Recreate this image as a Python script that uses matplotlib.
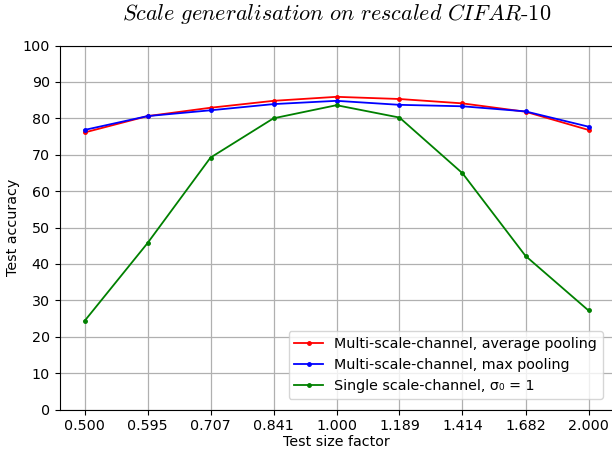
import numpy as np
import matplotlib
matplotlib.use('Agg')
import matplotlib.pyplot as plt

plt.rcParams['mathtext.fontset'] = 'cm'

# test size factors (2^(k/4), k = -4..4)
size_labels = ['0.500', '0.595', '0.707', '0.841', '1.000', '1.189', '1.414', '1.682', '2.000']

acc_avg_pool = [76.1, 80.6, 82.9, 84.8, 85.9, 85.3, 84.1, 81.8, 76.8]
acc_max_pool = [76.8, 80.6, 82.2, 83.9, 84.8, 83.7, 83.3, 81.9, 77.7]
acc_single = [24.3, 45.7, 69.2, 80.0, 83.6, 80.2, 64.9, 42.2, 27.2]

y_ticks = list(range(0, 101, 10))

fs = 10.3
fig = plt.figure(figsize=(6.12, 4.5), dpi=100)
ax = fig.add_axes([59.5 / 612, 1 - 409.5 / 450, 554 / 612, 364 / 450])

x = np.arange(len(size_labels))
ax.plot(x, acc_avg_pool, color='red', marker='.', markersize=5, linewidth=1.3,
        label='Multi-scale-channel, average pooling')
ax.plot(x, acc_max_pool, color='blue', marker='.', markersize=5, linewidth=1.3,
        label='Multi-scale-channel, max pooling')
ax.plot(x, acc_single, color='green', marker='.', markersize=5, linewidth=1.3,
        label='Single scale-channel, \u03c3\u2080 = 1')

ax.set_xlim(-25 / 63, len(size_labels) - 1 + 25 / 63)
ax.set_ylim(0, 100)
ax.set_xticks(x)
ax.set_xticklabels(size_labels, fontsize=fs)
ax.set_yticks(y_ticks)
ax.tick_params(axis='y', labelsize=fs)
ax.grid(True, color='#b0b0b0', linewidth=0.9)
ax.set_axisbelow(True)

ax.set_xlabel('Test size factor', fontsize=fs, labelpad=1)
ax.set_ylabel('Test accuracy', fontsize=fs, labelpad=2)
ax.set_title(r'$\mathit{Scale\ generalisation\ on\ rescaled\ CIFAR\text{-}10}$',
             fontsize=16, pad=18)

ax.legend(loc='lower right', fontsize=fs, borderaxespad=0.75,
          bbox_to_anchor=(1.0, 0.0), handlelength=2.0)

fig.savefig('out.png', dpi=100)
